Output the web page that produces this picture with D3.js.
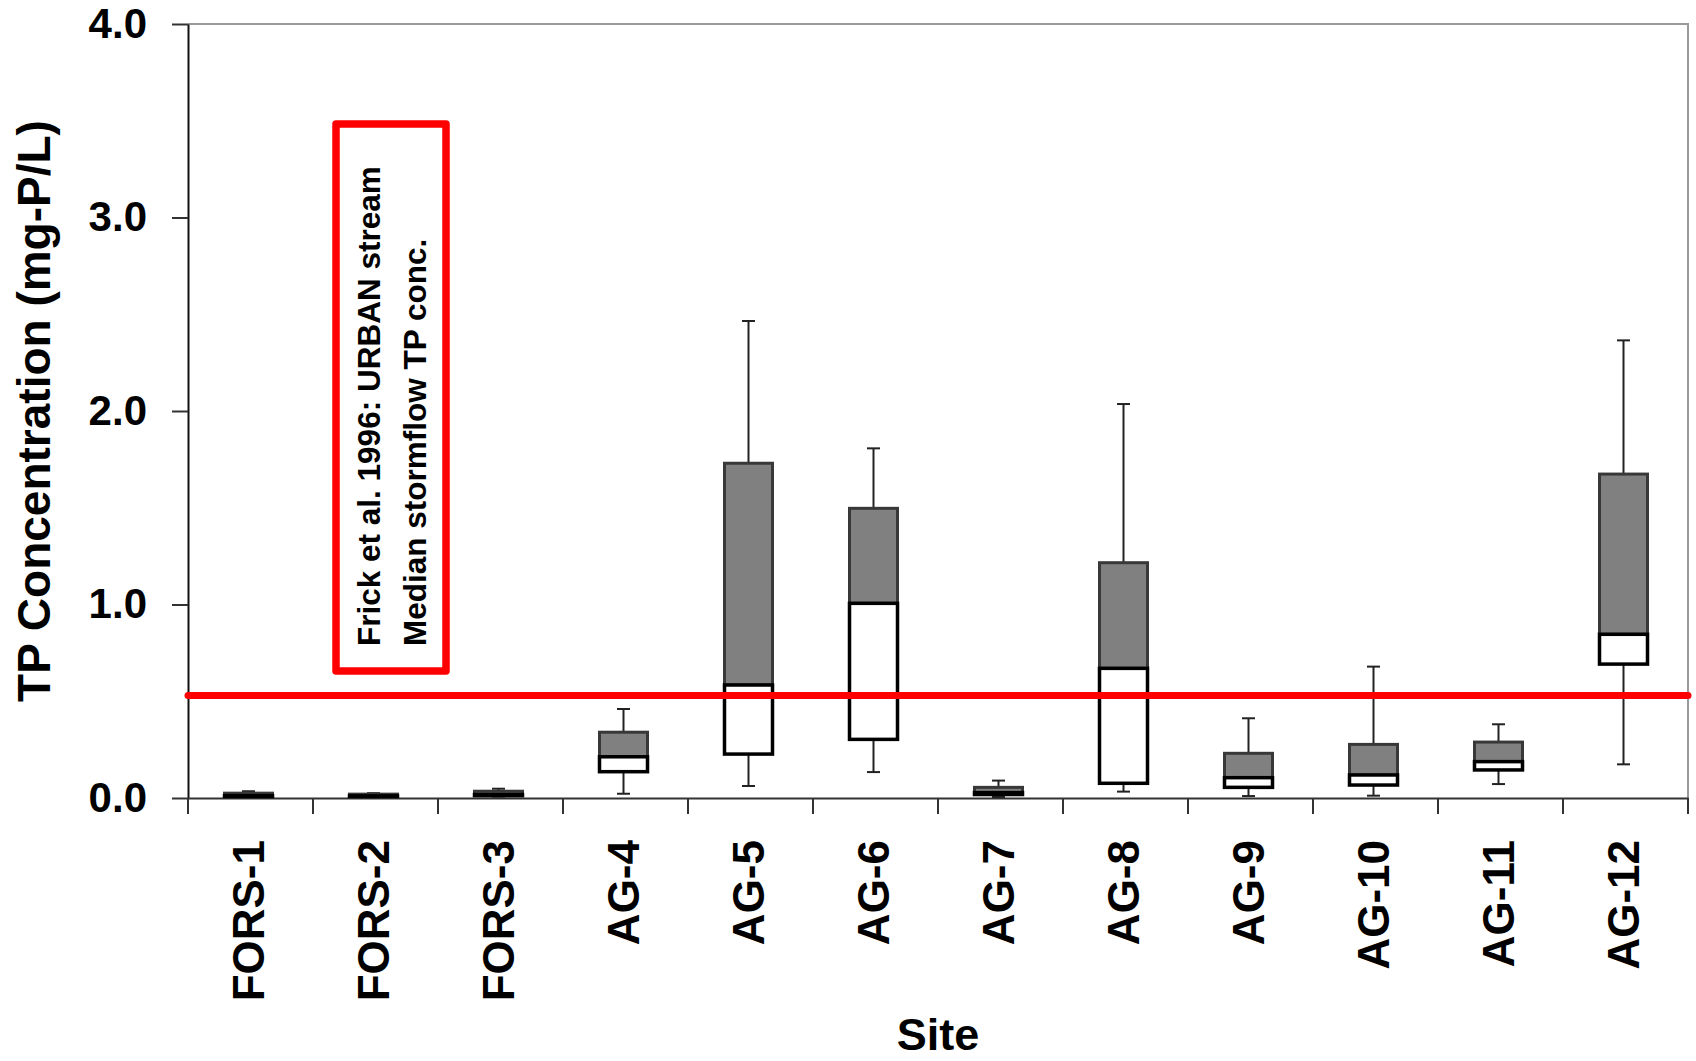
<!DOCTYPE html>
<html>
<head>
<meta charset="utf-8">
<script src="https://cdn.jsdelivr.net/npm/d3@7"></script>
<style>
  html, body { margin: 0; padding: 0; background: #fff; }
  svg { display: block; font-family: "Liberation Sans", Arial, sans-serif; }
</style>
</head>
<body>
<svg id="chart" width="1696" height="1061"></svg>
<script>
// Sites along the x axis
const sites = ["FORS-1", "FORS-2", "FORS-3", "AG-4", "AG-5", "AG-6",
               "AG-7", "AG-8", "AG-9", "AG-10", "AG-11", "AG-12"];

// Box-plot statistics of TP concentration (mg-P/L) per site
const mins    = [0.005, 0.005, 0.008, 0.022, 0.062, 0.134, 0.005, 0.033, 0.010, 0.012, 0.072, 0.174];
const q1s     = [0.008, 0.008, 0.012, 0.136, 0.227, 0.303, 0.018, 0.076, 0.055, 0.067, 0.145, 0.692];
const medians = [0.012, 0.011, 0.018, 0.213, 0.584, 1.006, 0.028, 0.670, 0.105, 0.119, 0.188, 0.846];
const q3s     = [0.025, 0.020, 0.035, 0.340, 1.730, 1.497, 0.055, 1.216, 0.231, 0.277, 0.289, 1.674];
const maxs    = [0.035, 0.025, 0.048, 0.460, 2.465, 1.807, 0.090, 2.036, 0.412, 0.679, 0.381, 2.365];

// Y axis ticks
const yTicks = [0, 1, 2, 3, 4];

// Urban reference level (Frick et al. 1996)
const urbanMedian = 0.53;
const noteLines = ["Frick et al. 1996: URBAN stream", "Median stormflow TP conc."];

(function draw() {
  const svg = d3.select("#chart");
  const plotLeft = 188, plotRight = 1688, plotTop = 24, plotBottom = 798;

  const x = d3.scaleBand().domain(sites).range([plotLeft, plotRight]).padding(0);
  const y = d3.scaleLinear().domain([0, 4]).range([plotBottom, plotTop]);

  const boxW = 48;
  const shift = -2;

  // plot frame (top and right edges)
  svg.append("path")
    .attr("d", `M${plotLeft},${plotTop}H${plotRight}V${plotBottom}`)
    .attr("fill", "none").attr("stroke", "#9a9a9a").attr("stroke-width", 2);

  // Y axis
  const yAxis = svg.append("g")
    .attr("transform", `translate(${plotLeft},0)`)
    .call(d3.axisLeft(y).tickValues(yTicks).tickFormat(d3.format(".1f"))
          .tickSize(16).tickSizeOuter(0).tickPadding(25));
  yAxis.select(".domain").attr("stroke", "#111").attr("stroke-width", 2);
  yAxis.selectAll(".tick line").attr("stroke", "#333").attr("stroke-width", 2);
  yAxis.selectAll(".tick text")
    .attr("font-size", 42).attr("font-weight", "bold").attr("fill", "#000")
    .attr("font-family", "Liberation Sans, Arial, sans-serif");

  // X axis with rotated site labels
  const xAxis = svg.append("g")
    .attr("transform", `translate(0,${plotBottom})`)
    .call(d3.axisBottom(x).tickSize(0).tickSizeOuter(0));
  xAxis.select(".domain").attr("stroke", "#333").attr("stroke-width", 2);
  xAxis.selectAll(".tick text")
    .attr("font-size", 44).attr("font-weight", "bold").attr("fill", "#000")
    .attr("font-family", "Liberation Sans, Arial, sans-serif")
    .attr("transform", "rotate(-90)")
    .attr("text-anchor", "end")
    .attr("x", -42).attr("y", shift).attr("dy", "0.36em");

  // category boundary ticks
  const bounds = sites.map(s => x(s)).concat([x.range()[1]]);
  svg.append("g").selectAll("line").data(bounds).join("line")
    .attr("x1", d => d).attr("x2", d => d)
    .attr("y1", plotBottom).attr("y2", plotBottom + 16)
    .attr("stroke", "#333").attr("stroke-width", 2);

  // Axis titles
  svg.append("text")
    .attr("transform", `translate(50,${(plotTop + plotBottom) / 2}) rotate(-90)`)
    .attr("text-anchor", "middle")
    .attr("font-size", 46).attr("font-weight", "bold")
    .text("TP Concentration (mg-P/L)");

  svg.append("text")
    .attr("x", (plotLeft + plotRight) / 2).attr("y", 1050)
    .attr("text-anchor", "middle")
    .attr("font-size", 45).attr("font-weight", "bold")
    .text("Site");

  // Box plots
  const boxes = sites.map((s, i) => ({
    site: s, min: mins[i], q1: q1s[i], med: medians[i], q3: q3s[i], max: maxs[i]
  }));
  const cx = d => x(d.site) + x.bandwidth() / 2 + shift;

  const whisk = { stroke: "#222", w: 2, cap: 13 };
  const item = svg.append("g").selectAll("g.box").data(boxes).join("g").attr("class", "box");

  // whiskers
  item.append("line")
    .attr("x1", cx).attr("x2", cx)
    .attr("y1", d => y(d.q3)).attr("y2", d => y(d.max))
    .attr("stroke", whisk.stroke).attr("stroke-width", whisk.w);
  item.append("line")
    .attr("x1", d => cx(d) - whisk.cap / 2).attr("x2", d => cx(d) + whisk.cap / 2)
    .attr("y1", d => y(d.max)).attr("y2", d => y(d.max))
    .attr("stroke", whisk.stroke).attr("stroke-width", whisk.w);
  item.append("line")
    .attr("x1", cx).attr("x2", cx)
    .attr("y1", d => y(d.q1)).attr("y2", d => y(d.min))
    .attr("stroke", whisk.stroke).attr("stroke-width", whisk.w);
  item.append("line")
    .attr("x1", d => cx(d) - whisk.cap / 2).attr("x2", d => cx(d) + whisk.cap / 2)
    .attr("y1", d => y(d.min)).attr("y2", d => y(d.min))
    .attr("stroke", whisk.stroke).attr("stroke-width", whisk.w);

  // upper half: median to Q3 (grey)
  item.append("rect")
    .attr("x", d => cx(d) - boxW / 2).attr("width", boxW)
    .attr("y", d => y(d.q3)).attr("height", d => y(d.med) - y(d.q3))
    .attr("fill", "#808080").attr("stroke", "#383838").attr("stroke-width", 3);

  // lower half: Q1 to median (white)
  item.append("rect")
    .attr("x", d => cx(d) - boxW / 2).attr("width", boxW)
    .attr("y", d => y(d.med)).attr("height", d => y(d.q1) - y(d.med))
    .attr("fill", "#fff").attr("stroke", "#000").attr("stroke-width", 3.5);

  // Urban reference line
  svg.append("line")
    .attr("x1", plotLeft).attr("x2", plotRight)
    .attr("y1", y(urbanMedian)).attr("y2", y(urbanMedian))
    .attr("stroke", "#ff0000").attr("stroke-width", 7).attr("stroke-linecap", "round");

  // Annotation box
  svg.append("rect")
    .attr("x", 336).attr("y", 124).attr("width", 110).attr("height", 547)
    .attr("fill", "#fff").attr("stroke", "#ff0000").attr("stroke-width", 7.5)
    .attr("stroke-linejoin", "round");

  svg.append("g").selectAll("text").data(noteLines).join("text")
    .attr("transform", (d, i) => `translate(${380 + i * 46},646) rotate(-90)`)
    .attr("text-anchor", "start")
    .attr("font-size", 31.5).attr("font-weight", "bold")
    .text(d => d);
})();
</script>
</body>
</html>
